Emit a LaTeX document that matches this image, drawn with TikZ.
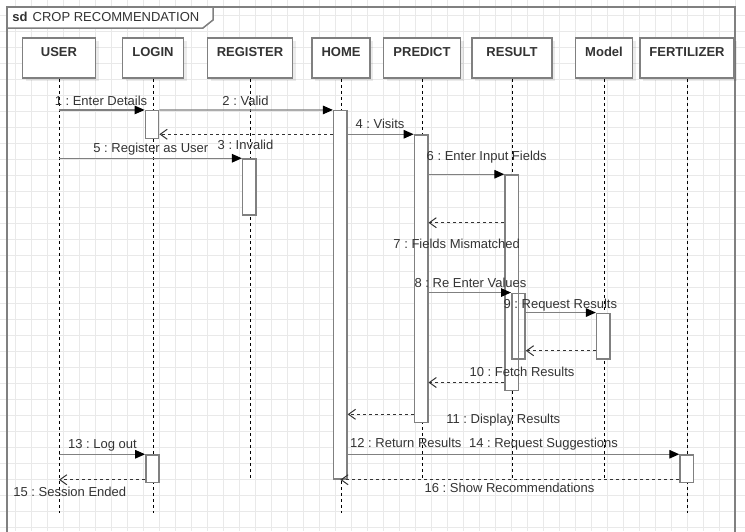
\documentclass[tikz,border=0pt]{standalone}
\usepackage{fontspec}
\setmainfont{Liberation Sans}
\usepackage{xcolor}
\usetikzlibrary{arrows.meta,shadows}
\frenchspacing
\definecolor{umlgray}{HTML}{808080}
\definecolor{gridgray}{HTML}{E9E9E9}
\definecolor{textdark}{HTML}{333333}
\begin{document}
\begin{tikzpicture}[x=1pt,y=-1pt,
    head/.style={rectangle,draw=umlgray,line width=1.5pt,fill=white,minimum height=40pt,
        inner ysep=0pt,text height=18pt,text depth=22pt,font=\fontsize{13}{15}\selectfont\bfseries,
        text=textdark,drop shadow={shadow xshift=3pt,shadow yshift=-3pt,opacity=0.08,fill=black}},
    act/.style={rectangle,draw=umlgray,line width=1.5pt,fill=white,minimum width=13.3pt,inner sep=0pt},
    lifeline/.style={black,line width=0.8pt,dash pattern=on 3pt off 3pt},
    msg/.style={-{Triangle[length=10pt,width=8.5pt,black]},umlgray,line width=1.3pt},
    reply/.style={-{Straight Barb[length=7pt,width=10pt,line width=1pt]},black!80,line width=1.2pt,dash pattern=on 3pt off 3pt},
    lbl/.style={font=\fontsize{13}{15}\selectfont,text=textdark,inner sep=0pt,text height=10.5pt,text depth=1.5pt},
    gridline/.style={gridgray,line width=0.6pt}
]
\clip (0,0) rectangle (745,531);
%%% background grid
\foreach \gx in {15.7,31.7,...,745} \draw[gridline] (\gx,0) -- (\gx,531);
\foreach \gy in {15.7,31.7,...,531} \draw[gridline] (0,\gy) -- (745,\gy);

%%% frame with title tab
\draw[umlgray,line width=2pt] (7,540) -- (7,7) -- (735,7) -- (735,540);
\draw[umlgray,line width=1.5pt,fill=white] (7,7) -- (213,7) -- (213,20) -- (203,28) -- (7,28) -- cycle;
\node[lbl,anchor=west] (title) at (12.3,17) {\textbf{sd}\hspace{5pt}CROP RECOMMENDATION};

%%% lifeline heads
\node[head,minimum width=73pt] (user)     at (59,58)  {USER};
\node[head,minimum width=61pt] (login)    at (153,58) {LOGIN};
\node[head,minimum width=85pt] (register) at (250,58) {REGISTER};
\node[head,minimum width=58pt] (home)     at (341,58) {HOME};
\node[head,minimum width=77pt] (predict)  at (422,58) {PREDICT};
\node[head,minimum width=80pt] (result)   at (512,58) {RESULT};
\node[head,minimum width=57pt] (model)    at (604,58) {Model};
\node[head,minimum width=94pt] (fert)     at (687,58) {FERTILIZER};

% lifeline ends
\coordinate (lowEnd) at (0,513);
\coordinate (midEnd) at (0,479);
\draw[lifeline] (user.south) -- (user.south |- lowEnd);
\draw[lifeline] (login.south) -- (login.south |- lowEnd);
\draw[lifeline] (register.south) -- (register.south |- midEnd);
\draw[lifeline] (home.south) -- (home.south |- lowEnd);
\draw[lifeline] (predict.south) -- (predict.south |- midEnd);
\draw[lifeline] (result.south) -- (result.south |- midEnd);
\draw[lifeline] (model.south) -- (model.south |- midEnd);
\draw[lifeline] (fert.south) -- (fert.south |- lowEnd);

%%% activation bars
\node[act,minimum height=27.6pt]  (aLogin1)  at (152,124.5)   {};
\node[act,minimum height=56pt]    (aRegister) at (249.3,187)  {};
\node[act,minimum height=368.3pt] (aHome)    at (340.3,294.85) {};
\node[act,minimum height=287.7pt] (aPredict) at (421.1,278.85) {};
\node[act,minimum height=215.7pt] (aResult)  at (511.7,282.85) {};
\node[act,minimum height=65.7pt,fill=none] (aResult2) at (518.4,326.15) {};
\node[act,minimum height=45.7pt]  (aModel)   at (603.3,336.15) {};
\node[act,minimum height=27.7pt]  (aLogin2)  at (152.5,468.85) {};
\node[act,minimum height=27.7pt]  (aFert)    at (686.7,468.85) {};

% message rows without a bar edge
\coordinate (row7)  at (0,222.7);
\coordinate (row10) at (0,350.7);
\coordinate (row11) at (0,382.5);
\coordinate (row12) at (0,414.3);

%%% messages
\draw[msg] (user.south |- aLogin1.north) -- (aLogin1.north west);
\node[lbl] (lab1) at (101,100.5) {1 : Enter Details};
\draw[msg] (aLogin1.north east) -- (aHome.north west);
\node[lbl] (lab2) at (245.5,100.5) {2 : Valid};
\draw[reply] (aHome.west |- aPredict.north) -- (aLogin1.east |- aPredict.north);
\node[lbl] (lab3) at (245.5,145) {3 : Invalid};
\draw[msg] (aHome.east |- aPredict.north) -- (aPredict.north west);
\node[lbl] (lab4) at (380,124) {4 : Visits};
\draw[msg] (user.south |- aRegister.north) -- (aRegister.north west);
\node[lbl] (lab5) at (150.8,148.3) {5 : Register as User};
\draw[msg] (aPredict.east |- aResult.north) -- (aResult.north west);
\node[lbl] (lab6) at (486.7,156) {6 : Enter Input Fields};
\draw[reply] (aResult.west |- row7) -- (aPredict.east |- row7);
\node[lbl] (lab7) at (456.7,244) {7 : Fields Mismatched};
\draw[msg] (aPredict.east |- aResult2.north) -- (aResult2.north west);
\node[lbl] (lab8) at (470.5,283.3) {8 : Re Enter Values};
\draw[msg] (aResult2.east |- aModel.north) -- (aModel.north west);
\node[lbl] (lab9) at (560.3,303.5) {9 : Request Results};
\draw[reply] (aModel.west |- row10) -- (aResult2.east |- row10);
\draw[reply] (aResult.west |- row11) -- (aPredict.east |- row11);
\node[lbl] (lab10) at (522,372.3) {10 : Fetch Results};
\draw[reply] (aPredict.west |- row12) -- (aHome.east |- row12);
\node[lbl] (lab11) at (503.3,419.3) {11 : Display Results};
\node[lbl] (lab12) at (405.8,443.3) {12 : Return Results};
\draw[msg] (user.south |- aLogin2.north) -- (aLogin2.north west);
\node[lbl] (lab13) at (102.5,444.3) {13 : Log out};
\draw[msg] (aHome.east |- aFert.north) -- (aFert.north west);
\node[lbl] (lab14) at (543.5,443.3) {14 : Request Suggestions};
\draw[reply] (aLogin2.west |- aHome.south) -- (user.south |- aHome.south);
\node[lbl] (lab15) at (69.8,492.3) {15 : Session Ended};
\draw[reply] (aFert.west |- aHome.south) -- (aHome.south);
\node[lbl] (lab16) at (509.5,488.3) {16 : Show Recommendations};
\end{tikzpicture}
\end{document}
